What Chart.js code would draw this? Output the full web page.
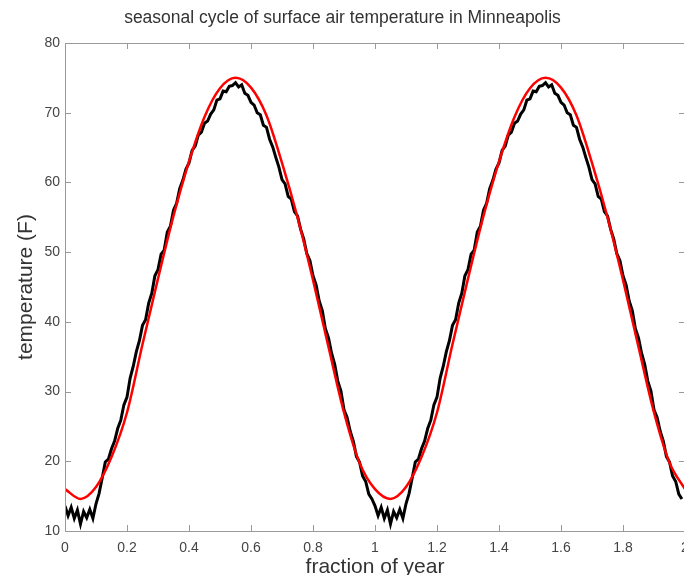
<!DOCTYPE html>
<html>
<head>
<meta charset="utf-8">
<script src="https://cdn.jsdelivr.net/npm/chart.js@4/dist/chart.umd.min.js"></script>
<style>
html,body{margin:0;padding:0;background:#fff;overflow:hidden;width:684px;height:575px;}
canvas{display:block;}
</style>
</head>
<body>
<canvas id="c" width="700" height="590"></canvas>
<script>
// ---- data ----
const titleText = 'seasonal cycle of surface air temperature in Minneapolis';
const xTitle = 'fraction of year';
const yTitle = 'temperature (F)';
const xTicks = [0, 0.2, 0.4, 0.6, 0.8, 1, 1.2, 1.4, 1.6, 1.8, 2];
const xTickLabels = ['0','0.2','0.4','0.6','0.8','1','1.2','1.4','1.6','1.8','2'];
const yTicks = [10, 20, 30, 40, 50, 60, 70, 80];
const yTickLabels = ['10','20','30','40','50','60','70','80'];
const years = [0, 1];

// daily-ish observed climatology (one year, sampled every 0.01 of a year)
const obsFrac = [0.00,0.01,0.02,0.03,0.04,0.05,0.06,0.07,0.08,0.09,
  0.10,0.11,0.12,0.13,0.14,0.15,0.16,0.17,0.18,0.19,
  0.20,0.21,0.22,0.23,0.24,0.25,0.26,0.27,0.28,0.29,
  0.30,0.31,0.32,0.33,0.34,0.35,0.36,0.37,0.38,0.39,
  0.40,0.41,0.42,0.43,0.44,0.45,0.46,0.47,0.48,0.49,
  0.50,0.51,0.52,0.53,0.54,0.55,0.56,0.57,0.58,0.59,
  0.60,0.61,0.62,0.63,0.64,0.65,0.66,0.67,0.68,0.69,
  0.70,0.71,0.72,0.73,0.74,0.75,0.76,0.77,0.78,0.79,
  0.80,0.81,0.82,0.83,0.84,0.85,0.86,0.87,0.88,0.89,
  0.90,0.91,0.92,0.93,0.94,0.95,0.96,0.97,0.98,0.99];
const obsTemp = [13.6,12.2,13.4,11.8,13.0,11.0,12.8,11.9,13.1,11.8,
  13.9,15.4,17.6,19.9,20.3,21.8,22.9,24.7,25.9,28.1,
  29.2,31.9,33.6,35.7,37.3,39.5,40.3,42.7,44.1,46.6,
  47.5,49.7,50.3,52.9,53.7,56.0,57.0,59.1,60.3,61.9,
  62.8,64.6,65.2,66.8,67.2,68.5,68.8,69.8,70.4,71.8,
  72.0,73.1,73.0,73.8,73.9,74.3,73.7,74.0,72.8,72.5,
  71.5,71.1,70.0,69.7,68.2,67.9,66.2,65.1,63.6,62.2,
  60.4,59.8,58.0,57.6,55.8,55.2,53.3,51.9,49.8,48.8,
  46.6,45.3,43.0,41.6,39.0,37.7,35.5,33.9,31.5,30.1,
  27.4,26.3,24.3,22.9,20.7,19.9,17.9,17.1,15.3,14.6];

// smooth fitted cycle (one year, every 0.05)
const fitFrac = [0.00,0.05,0.10,0.15,0.20,0.25,0.30,0.35,0.40,0.45,0.50,
  0.55,0.60,0.65,0.70,0.75,0.80,0.85,0.90,0.95];
const fitTemp = [16.0,14.6,16.3,20.6,27.0,36.8,46.2,55.2,63.0,69.4,73.5,
  75.0,73.6,69.6,62.8,55.0,46.0,36.4,27.0,19.8];
const fitEnd = 16.0; // value at fraction 2

// ---- build point lists ----
const obsPts = [];
years.forEach(y => obsFrac.forEach((f, i) => obsPts.push({x: y + f, y: obsTemp[i]})));
const fitPts = [];
years.forEach(y => fitFrac.forEach((f, i) => fitPts.push({x: y + f, y: fitTemp[i]})));
fitPts.push({x: 2, y: fitEnd});

const FONT = "'Liberation Sans', Arial, Helvetica, sans-serif";

const framePlugin = {
  id: 'frame',
  afterDatasetsDraw(chart) {
    const {ctx, chartArea: a, scales: {x, y}} = chart;
    ctx.save();
    ctx.strokeStyle = '#9a9a9a';
    ctx.lineWidth = 1;
    ctx.beginPath();
    ctx.rect(Math.round(a.left) + 0.5, Math.round(a.top) + 0.5, Math.round(a.right - a.left), Math.round(a.bottom - a.top));
    ctx.stroke();
    const L = 6;
    ctx.beginPath();
    xTicks.forEach(v => {
      const px = Math.round(x.getPixelForValue(v)) + 0.5;
      ctx.moveTo(px, a.bottom); ctx.lineTo(px, a.bottom - L);
      ctx.moveTo(px, a.top); ctx.lineTo(px, a.top + L);
    });
    yTicks.forEach(v => {
      const py = Math.round(y.getPixelForValue(v)) + 0.5;
      ctx.moveTo(a.left, py); ctx.lineTo(a.left + L, py);
      ctx.moveTo(a.right, py); ctx.lineTo(a.right - L, py);
    });
    ctx.stroke();
    ctx.restore();
  }
};

new Chart(document.getElementById('c'), {
  type: 'line',
  data: {
    datasets: [
      {label: 'fit', data: fitPts, borderColor: '#ff0000', borderWidth: 2.5, pointRadius: 0, tension: 0.4, cubicInterpolationMode: 'monotone', fill: false, order: 0},
      {label: 'observed', data: obsPts, borderColor: '#000000', borderWidth: 3, pointRadius: 0, tension: 0, fill: false, order: 1}
    ]
  },
  options: {
    responsive: false,
    animation: false,
    events: [],
    layout: {padding: {left: 0, right: 15, top: 0, bottom: 0}},
    plugins: {
      legend: {display: false},
      tooltip: {enabled: false},
      title: {display: true, text: titleText, color: '#333', font: {family: FONT, size: 17.5, weight: 'normal', lineHeight: 1.2}, padding: {top: 8, bottom: 14}}
    },
    scales: {
      x: {
        type: 'linear', min: 0, max: 2,
        afterBuildTicks(s) { s.ticks = xTicks.map(v => ({value: v})); },
        afterFit(s) { s.height = 59; },
        grid: {display: false, drawTicks: false},
        border: {display: false},
        ticks: {color: '#444', font: {family: FONT, size: 14}, padding: 9, maxRotation: 0, autoSkip: false,
          callback: (v, i) => xTickLabels[i]},
        title: {display: true, text: xTitle, color: '#333', font: {family: FONT, size: 21}, padding: {top: 0, bottom: 10}}
      },
      y: {
        type: 'linear', min: 10, max: 80,
        afterBuildTicks(s) { s.ticks = yTicks.map(v => ({value: v})); },
        afterFit(s) { s.width = 65; },
        grid: {display: false, drawTicks: false},
        border: {display: false},
        ticks: {color: '#444', font: {family: FONT, size: 14}, padding: 5, autoSkip: false,
          callback: (v, i) => yTickLabels[i]},
        title: {display: true, text: yTitle, color: '#333', font: {family: FONT, size: 21}, padding: {top: 14, bottom: 0}}
      }
    }
  },
  plugins: [framePlugin]
});
</script>
</body>
</html>
